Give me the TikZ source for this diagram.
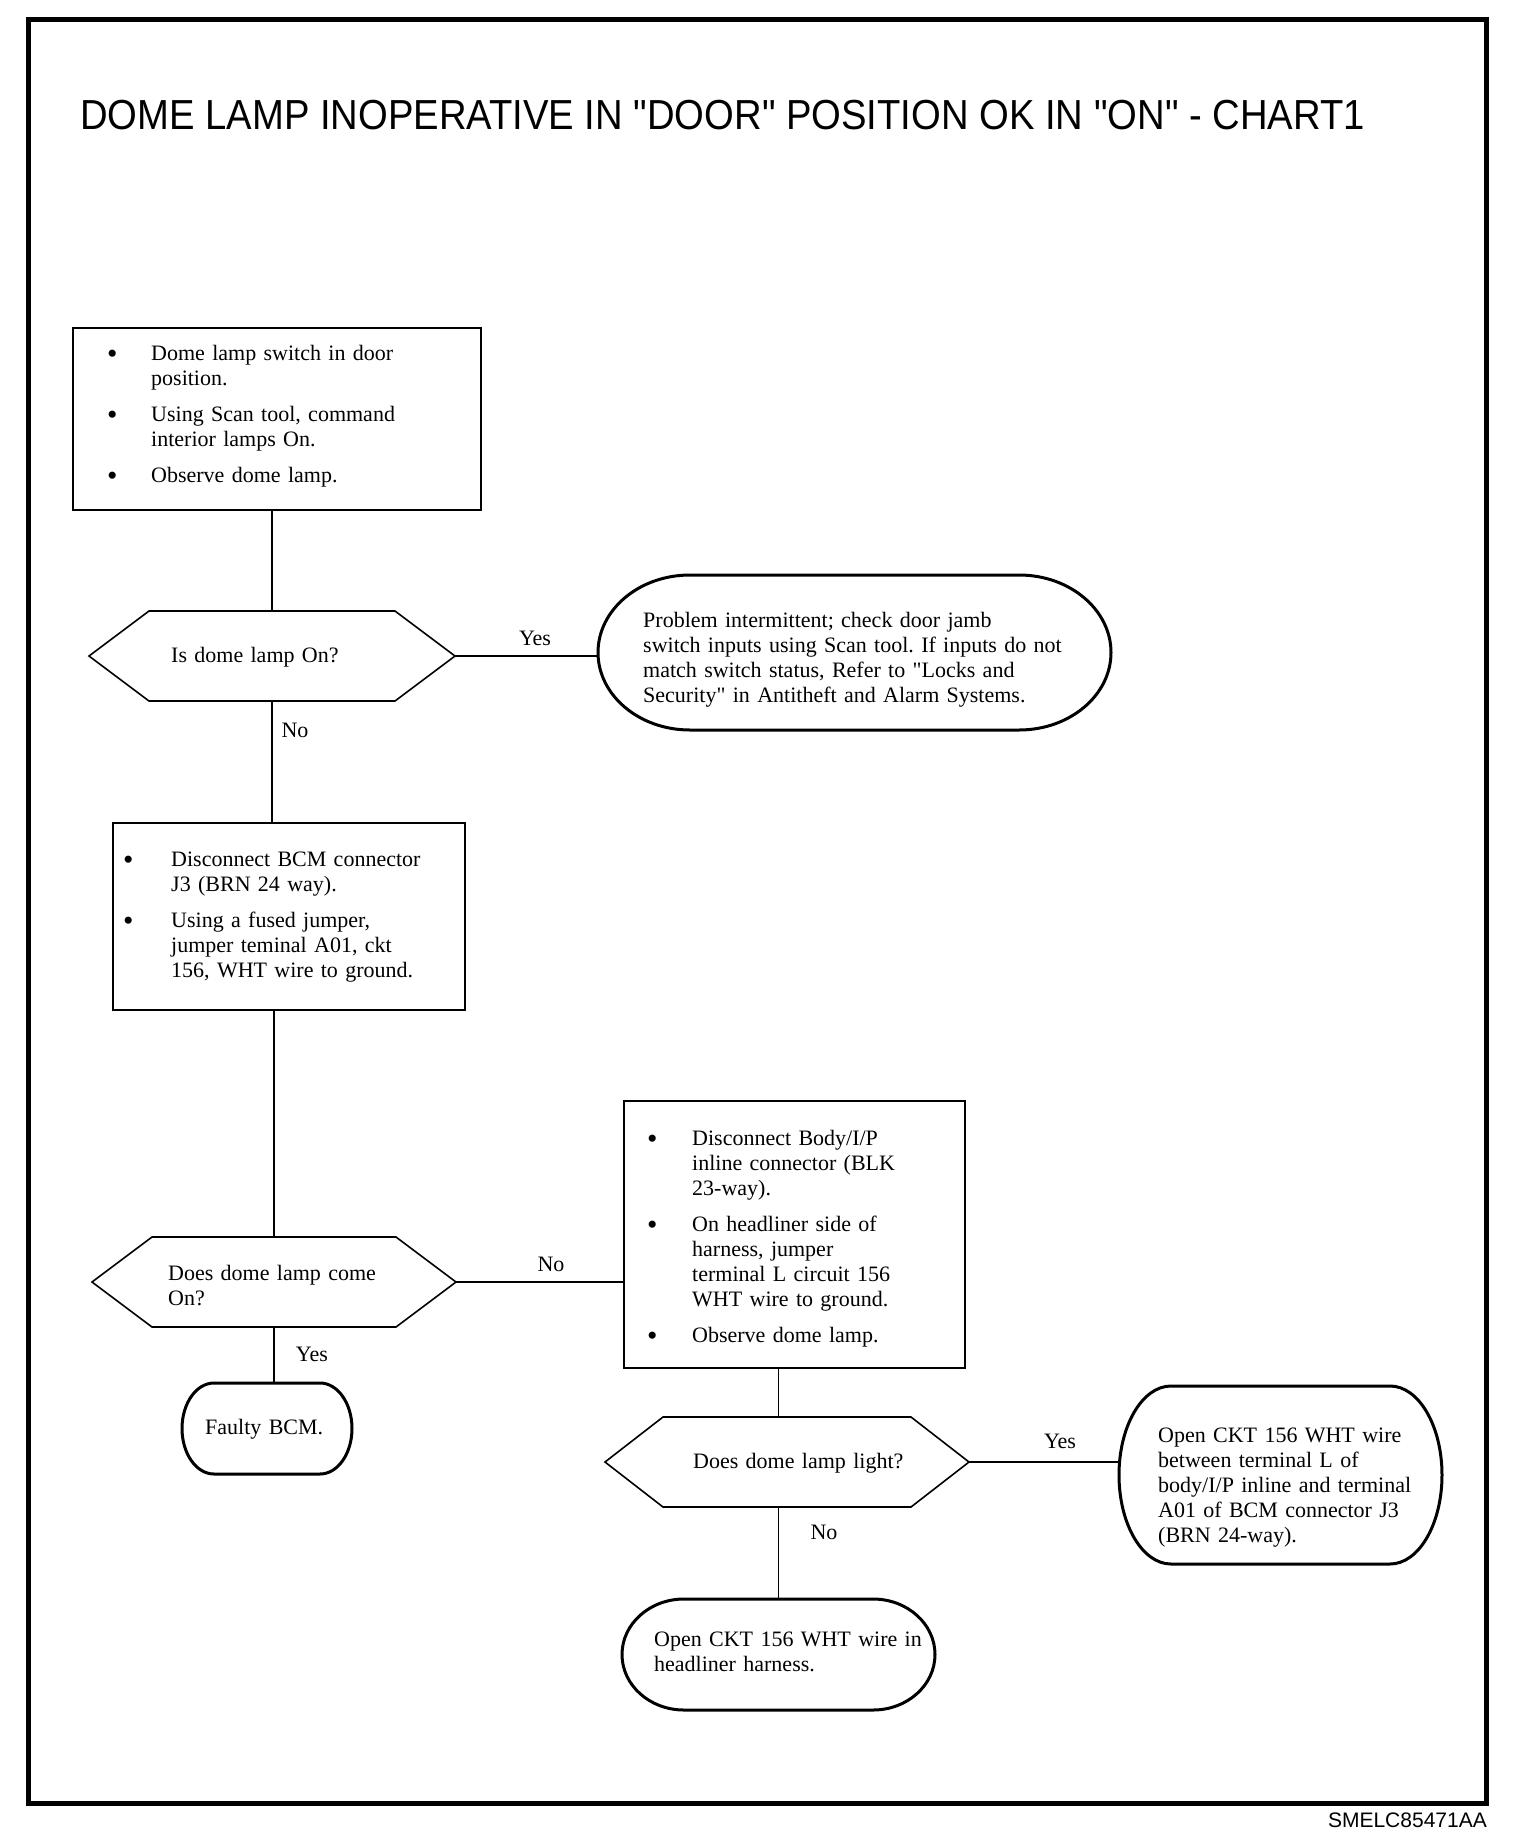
\documentclass[tikz,border=0pt]{standalone}
\usepackage{fontspec}
\usepackage{graphicx}
\setmainfont{Liberation Serif}
\newfontfamily\sansf{Liberation Sans}
\frenchspacing
\newcommand\bodyfont{\fontsize{22pt}{25pt}\selectfont}
\newcommand\bigbullet{\raisebox{-3pt}{\scalebox{1.35}{\textbullet}}}
\newcommand\bitem[2]{\par\hangindent=#1\hangafter=1\noindent\makebox[#1][l]{\bigbullet}#2\par}
\newcommand\itemgap{\vspace{11pt}}
\newcommand\nl{\newline}
% hexagon outline drawn on a named node: #1 node, #2 slant
\newcommand\hexout[2]{\draw[hexline] (#1.west) -- ([xshift=#2]#1.north west) -- ([xshift=-#2]#1.north east) -- (#1.east) -- ([xshift=-#2]#1.south east) -- ([xshift=#2]#1.south west) -- cycle;}
% terminal outline with half-elliptic ends: #1 node, #2 end width, #3 half height
\newcommand\termout[3]{\draw[termline] ([xshift=#2]#1.north west) -- ([xshift=-#2]#1.north east) arc[start angle=90,end angle=-90,x radius=#2,y radius=#3] -- ([xshift=#2]#1.south west) arc[start angle=270,end angle=90,x radius=#2,y radius=#3] -- cycle;}
\begin{document}
\begin{tikzpicture}[x=1pt,y=-1pt,
  shp/.style={rectangle, inner sep=0pt, outer sep=0pt},
  boxnode/.style={shp, draw, line width=2.4pt},
  hexline/.style={line width=1.6pt, line join=miter},
  termline/.style={line width=3pt},
  txt/.style={font=\bodyfont, align=left, text width=500pt, inner sep=0pt, anchor=north west},
  lbl/.style={font=\bodyfont, inner sep=0pt},
  vcon/.style={line width=1.5pt},
  hcon/.style={line width=2pt}]
\useasboundingbox (0,0) rectangle (1536,1842);
\fill[white] (0,0) rectangle (1536,1842);
\draw[line width=5pt] (28,19) rectangle (1486,1803);

\node[anchor=base west, inner sep=0pt] (title) at (80,129) {\scalebox{0.91}[1]{\sansf\fontsize{42pt}{48pt}\selectfont DOME LAMP INOPERATIVE IN "DOOR" POSITION OK IN "ON" - CHART1}};
\node[anchor=base east, inner sep=0pt] (code) at (1487,1827) {\sansf\fontsize{21pt}{24pt}\selectfont SMELC85471AA};

% shapes
\node[boxnode, minimum width=408pt, minimum height=182pt] (box1) at (277,419) {};
\node[shp, minimum width=366pt, minimum height=90pt] (hex1) at (272,656) {};
\node[shp, minimum width=513pt, minimum height=155pt] (t1) at (854.5,652.5) {};
\node[boxnode, minimum width=352pt, minimum height=187pt] (box2) at (289,916.5) {};
\node[shp, minimum width=364pt, minimum height=90pt] (hex2) at (274,1282) {};
\node[boxnode, minimum width=341pt, minimum height=267pt] (box3) at (794.5,1234.5) {};
\node[shp, minimum width=170pt, minimum height=91pt] (t2) at (267,1428.5) {};
\node[shp, minimum width=364pt, minimum height=90pt] (hex3) at (787,1462) {};
\node[shp, minimum width=323pt, minimum height=178pt] (t4) at (1280.5,1475) {};
\node[shp, minimum width=313pt, minimum height=111pt] (t3) at (778.5,1654.5) {};

\hexout{hex1}{60pt}
\hexout{hex2}{60pt}
\hexout{hex3}{58pt}
\termout{t1}{92pt}{77.5pt}
\termout{t2}{32pt}{45.5pt}
\termout{t3}{62pt}{55.5pt}
\termout{t4}{52pt}{89pt}

% texts
\node[txt] (box1t) at (107,335) {\bitem{44pt}{Dome lamp switch in door\nl position.}\itemgap\bitem{44pt}{Using Scan tool, command\nl interior lamps On.}\itemgap\bitem{44pt}{Observe dome lamp.}};
\node[txt] (hex1t) at (171,647) {Is dome lamp On?};
\node[txt] (t1t) at (643,612) {Problem intermittent; check door jamb\\switch inputs using Scan tool. If inputs do not\\match switch status, Refer to \textquotedbl Locks and\\Security\textquotedbl{} in Antitheft and Alarm Systems.};
\node[txt] (box2t) at (123,841) {\bitem{48pt}{Disconnect BCM connector\nl J3 (BRN 24 way).}\itemgap\bitem{48pt}{Using a fused jumper,\nl jumper teminal A01, ckt\nl 156, WHT wire to ground.}};
\node[txt] (hex2t) at (168,1265) {Does dome lamp come\\On?};
\node[txt] (box3t) at (647,1120) {\bitem{45pt}{Disconnect Body/I/P\nl inline connector (BLK\nl 23-way).}\itemgap\bitem{45pt}{On headliner side of\nl harness, jumper\nl terminal L circuit 156\nl WHT wire to ground.}\itemgap\bitem{45pt}{Observe dome lamp.}};
\node[txt] (t2t) at (205,1419) {Faulty BCM.};
\node[txt] (hex3t) at (693,1453) {Does dome lamp light?};
\node[txt] (t4t) at (1158,1428) {Open CKT 156 WHT wire\\between terminal L of\\body/I/P inline and terminal\\A01 of BCM connector J3\\(BRN 24-way).};
\node[txt] (t3t) at (654,1632) {Open CKT 156 WHT wire in\\headliner harness.};

% labels
\node[lbl] (yes1) at (535,638) {Yes};
\node[lbl] (no1) at (295,730) {No};
\node[lbl] (no2) at (551,1264) {No};
\node[lbl] (yes2) at (312,1354) {Yes};
\node[lbl] (yes3) at (1060,1441) {Yes};
\node[lbl] (no3) at (824,1532) {No};

% connectors
\draw[vcon] (hex1.north |- box1.south) -- (hex1.north);
\draw[hcon] (hex1.east) -- (hex1.east -| t1.west);
\draw[vcon] (hex1.south) -- (hex1.south |- box2.north);
\draw[vcon] (hex2.north |- box2.south) -- (hex2.north);
\draw[hcon] (hex2.east) -- (hex2.east -| box3.west);
\draw[vcon] (hex2.south) -- (hex2.south |- t2.north);
\draw[vcon] (t3.north |- box3.south) -- (t3.north |- hex3.north);
\draw[hcon] (hex3.east) -- (hex3.east -| t4.west);
\draw[vcon] (t3.north |- hex3.south) -- (t3.north);
\end{tikzpicture}
\end{document}
